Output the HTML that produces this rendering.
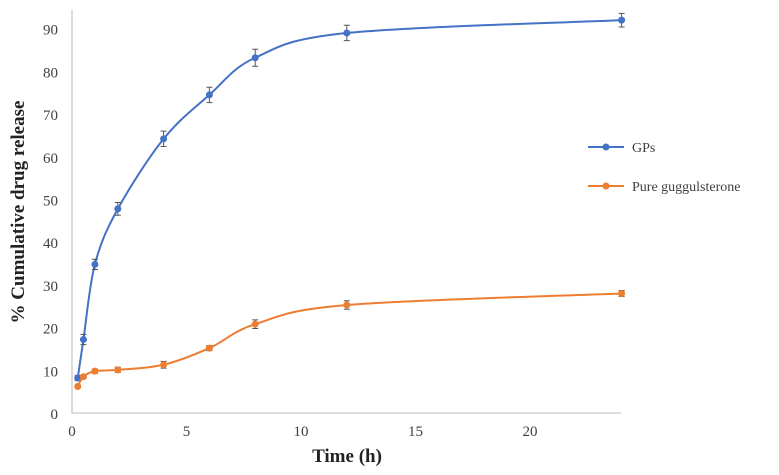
<!DOCTYPE html>
<html><head><meta charset="utf-8"><style>
body{margin:0;background:#fff;width:779px;height:470px;overflow:hidden}
svg{font-family:"Liberation Serif",serif}
</style></head><body>
<svg id="c" width="779" height="470"></svg>
<script>
const times=[0.25,0.5,1,2,4,6,8,12,24];
const gps=[8.2,17.2,34.8,47.8,64.2,74.5,83.2,89,92];
const gpsErr=[0.6,1.2,1.2,1.5,1.8,1.8,2,1.8,1.6];
const pure=[6.2,8.5,9.8,10.1,11.3,15.2,20.8,25.3,28];
const pureErr=[0.3,0.4,0.5,0.6,0.8,0.6,1.0,1.0,0.7];
const xTicks=[0,5,10,15,20];
const yTicks=[0,10,20,30,40,50,60,70,80,90];
const NS="http://www.w3.org/2000/svg";
const svg=document.getElementById('c');
const X=v=>72+v*22.9, Y=v=>413-v*4.27;
function el(t,a,p){const e=document.createElementNS(NS,t);for(const k in a)e.setAttribute(k,a[k]);(p||svg).appendChild(e);return e;}
const ax=el('path',{d:`M72 10V413H621`,stroke:'#d0d0d0','stroke-width':1.5,fill:'none'});


yTicks.forEach(v=>{const t=el('text',{x:58,y:Y(v)+6,'text-anchor':'end','font-size':15,fill:'#404040'});t.textContent=v;

});
xTicks.forEach(v=>{const t=el('text',{x:X(v),y:436,'text-anchor':'middle','font-size':15,fill:'#404040'});t.textContent=v;

});
const xt=el('text',{x:347,y:462,'text-anchor':'middle','font-size':19,'font-weight':'bold',fill:'#222'});xt.textContent='Time (h)';


const yt=el('text',{x:0,y:0,transform:'translate(24,212) rotate(-90)','text-anchor':'middle','font-size':19,'font-weight':'bold',fill:'#222'});yt.textContent='% Cumulative drug release';


function path(vals){const p=times.map((t,i)=>[X(t),Y(vals[i])]);let d=`M${p[0][0]},${p[0][1]}`;
for(let i=0;i<p.length-1;i++){const p0=p[i-1]||p[i],p1=p[i],p2=p[i+1],p3=p[i+2]||p2;
d+=`C${p1[0]+(p2[0]-p0[0])/6},${p1[1]+(p2[1]-p0[1])/6} ${p2[0]-(p3[0]-p1[0])/6},${p2[1]-(p3[1]-p1[1])/6} ${p2[0]},${p2[1]}`;}return d;}
function series(vals,errs,col,name){
const l=el('path',{d:path(vals),stroke:col,'stroke-width':2,fill:'none'});


times.forEach((t,i)=>{const x=X(t),y1=Y(vals[i]+errs[i]),y2=Y(vals[i]-errs[i]);
const e=el('path',{d:`M${x},${y1}V${y2}M${x-3},${y1}H${x+3}M${x-3},${y2}H${x+3}`,stroke:'#555','stroke-width':1});


const c=el('circle',{cx:x,cy:Y(vals[i]),r:3.5,fill:col});

});}
series(gps,gpsErr,'#4472c4','gps');
series(pure,pureErr,'#ed7d31','pure');
[['GPs','#4472c4',147],['Pure guggulsterone','#ed7d31',186]].forEach(([n,c,y])=>{
const g=el('g',{});


el('line',{x1:588,x2:624,y1:y,y2:y,stroke:c,'stroke-width':2},g);
el('circle',{cx:606,cy:y,r:3.5,fill:c},g);
const t=el('text',{x:632,y:y+5,'font-size':14,fill:'#404040'},g);t.textContent=n;});
</script>
</body></html>
